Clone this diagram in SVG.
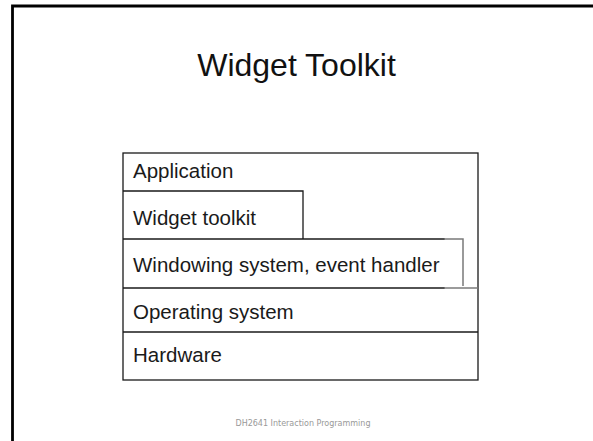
<svg xmlns="http://www.w3.org/2000/svg" width="593" height="441" viewBox="0 0 593 441">
  <style>
    .layer-text { font-family: "Liberation Sans", Arial, sans-serif; font-size: 20.5px; fill: #1a1a1a; }
    .edge { stroke: #1a1a1a; stroke-width: 1.3; fill: none; }
    .soft { stroke: #7a7a7a; stroke-width: 1.5; fill: none; }
  </style>
  <rect x="0" y="0" width="593" height="441" fill="#ffffff"/>

  <!-- slide frame -->
  <path d="M12.5 441 V6 H593" fill="none" stroke="#000" stroke-width="2.8"/>

  <!-- title -->
  <text x="296.5" y="76" text-anchor="middle" font-family="'Liberation Sans', Arial, sans-serif" font-size="32" fill="#111">Widget Toolkit</text>

  <!-- layer stack -->
  <g id="application">
    <rect class="edge" x="123" y="153" width="355" height="227"/>
    <text class="layer-text" x="133" y="178">Application</text>
  </g>
  <g id="widget-toolkit">
    <path class="edge" d="M123 191 H303 V239"/>
    <text class="layer-text" x="133" y="225">Widget toolkit</text>
  </g>
  <g id="windowing-system">
    <path class="edge" d="M123 239 H445"/>
    <path class="soft" d="M444 239 H463 V286"/>
    <text class="layer-text" x="133" y="272">Windowing system, event handler</text>
  </g>
  <g id="operating-system">
    <path class="edge" d="M123 288 H445"/>
    <path class="soft" d="M444 288 H478"/>
    <text class="layer-text" x="133" y="319">Operating system</text>
  </g>
  <g id="hardware">
    <path class="edge" d="M123 332 H478"/>
    <text class="layer-text" x="133" y="362">Hardware</text>
  </g>

  <!-- footer -->
  <text x="303" y="426" text-anchor="middle" font-family="'DejaVu Sans', Tahoma, sans-serif" font-size="8" fill="#999">DH2641 Interaction Programming</text>
</svg>
